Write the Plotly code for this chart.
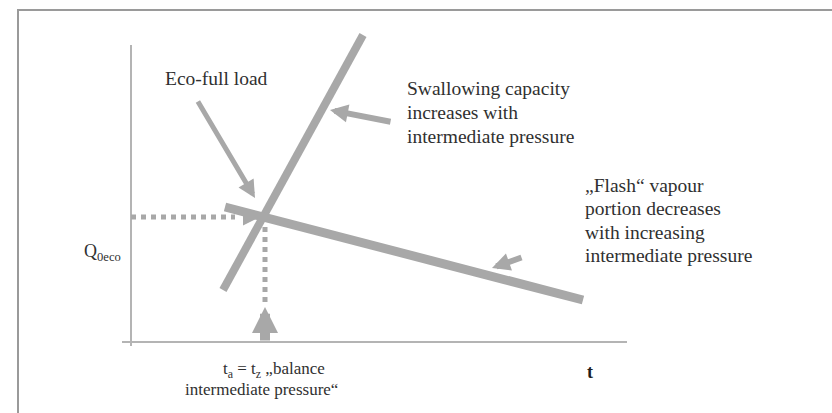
import plotly.graph_objects as go

# Schematic: economiser full-load balance point (t = temperature / intermediate pressure axis, Q = capacity)
# Coordinates are in diagram units: t grows to the right from the Q axis, Q grows upward from the t axis.

# Swallowing-capacity characteristic (steep line)
capacity_t = [92, 232]
capacity_q = [52, 307]

# "Flash" vapour portion characteristic (shallow line)
flash_t = [94, 452]
flash_q = [135, 42]

# Balance point and its dotted guides
balance_t = 134
balance_q = 125
balance_guide_end_t = 104
balance_guide_end_q = 40

# Axis extents
t_axis = [-9, 496]
q_axis = [-4, 297]

# Callout arrows: (tail t, tail q, head t, head q)
arrow_eco = (66, 242, 124, 144)
arrow_swallow = (261, 220, 199, 232)
arrow_flash = (392, 85, 361, 74)
arrow_balance = (balance_t, 0, balance_t, 35)
arrow_guide = (111, 124, 127, 124)

# Label texts (one entry per printed line)
label_eco = ["Eco-full load"]
label_swallow = ["Swallowing capacity", "increases with", "intermediate pressure"]
label_flash = ["\u201eFlash\u201c vapour", "portion decreases", "with increasing", "intermediate pressure"]
label_q = "Q<sub>0eco</sub>"
label_balance_1 = "t<sub>a</sub> = t<sub>z</sub> \u201ebalance"
label_balance_2 = "intermediate pressure\u201c"
label_t = "t"

LINE = "#a8a8a8"
AXIS = "#b4b4b4"
TEXT = "#303030"
FONT = "Liberation Serif"

fig = go.Figure()

# Axes drawn as plain lines
fig.add_trace(go.Scatter(x=[0, 0], y=q_axis, mode="lines",
                         line=dict(color=AXIS, width=2), hoverinfo="skip"))
fig.add_trace(go.Scatter(x=t_axis, y=[0, 0], mode="lines",
                         line=dict(color=AXIS, width=2), hoverinfo="skip"))

# Dotted guides to the balance point
fig.add_trace(go.Scatter(x=[0, balance_guide_end_t], y=[balance_q, balance_q], mode="lines",
                         line=dict(color=LINE, width=5, dash="dot"), hoverinfo="skip"))
fig.add_trace(go.Scatter(x=[balance_t, balance_t], y=[balance_q, balance_guide_end_q], mode="lines",
                         line=dict(color=LINE, width=5, dash="dot"), hoverinfo="skip"))

# Characteristic lines
fig.add_trace(go.Scatter(x=capacity_t, y=capacity_q, mode="lines",
                         line=dict(color=LINE, width=8), hoverinfo="skip"))
fig.add_trace(go.Scatter(x=flash_t, y=flash_q, mode="lines",
                         line=dict(color=LINE, width=9), hoverinfo="skip"))


def arrow(a, width, size):
    return dict(x=a[2], y=a[3], ax=a[0], ay=a[1], xref="x", yref="y", axref="x", ayref="y",
                showarrow=True, arrowhead=2, arrowwidth=width, arrowsize=size,
                arrowcolor=LINE, text="")


def text_block(lines, t, q_first, step, size, anchor="left"):
    out = []
    for i, s in enumerate(lines):
        out.append(dict(x=t, y=q_first - i * step, text=s, xanchor=anchor, yanchor="middle",
                        font=dict(family=FONT, size=size, color=TEXT)))
    return out


annotations = [
    arrow(arrow_eco, 5, 0.7),
    arrow(arrow_swallow, 6, 0.6),
    arrow(arrow_flash, 6, 0.6),
    arrow(arrow_balance, 10, 0.52),
    arrow(arrow_guide, 3, 1.0),
]
annotations += text_block(label_eco, 32, 264, 0, 19.5)
annotations += text_block(label_swallow, 274, 254, 24, 19.5)
annotations += text_block(label_flash, 452, 157, 23.5, 19.5)
annotations += text_block([label_balance_1], 143, -28, 0, 17, anchor="center")
annotations += text_block([label_balance_2], 130, -47, 0, 17, anchor="center")
annotations += [
    dict(x=-8, y=90, text=label_q, xanchor="right", yanchor="middle",
         font=dict(family=FONT, size=18, color=TEXT)),
    dict(x=459, y=-30, text="<b>" + label_t + "</b>", xanchor="center", yanchor="middle",
         font=dict(family=FONT, size=18, color="#1e1e1e")),
]
for a in annotations:
    a.setdefault("showarrow", False)
    a.setdefault("xref", "x")
    a.setdefault("yref", "y")

fig.update_layout(
    width=832, height=413,
    margin=dict(l=0, r=0, t=0, b=0),
    paper_bgcolor="white", plot_bgcolor="white",
    showlegend=False,
    xaxis=dict(range=[-131, 701], visible=False, fixedrange=True),
    yaxis=dict(range=[-71, 342], visible=False, fixedrange=True),
    annotations=annotations,
    shapes=[dict(type="rect", xref="paper", yref="paper",
                 x0=18 / 832, x1=1.05, y0=-0.05, y1=1 - 10 / 413,
                 line=dict(color="#9a9a9a", width=2))],
)

fig.write_html("out.html")
